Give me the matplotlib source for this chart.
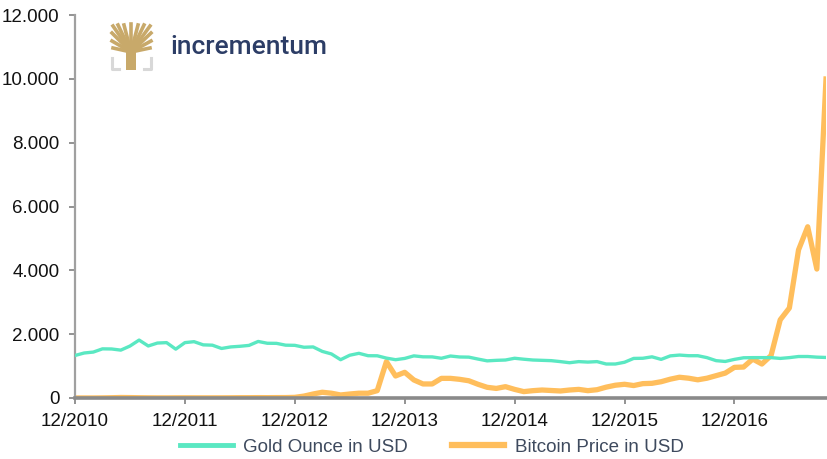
import matplotlib.pyplot as plt
from matplotlib.ticker import FuncFormatter
from matplotlib.lines import Line2D
from matplotlib.patches import Rectangle

plt.rcParams['font.family'] = ['Liberation Sans', 'DejaVu Sans']

# monthly values, first point = first month after the 12/2010 tick
gold = [1332, 1410, 1439, 1540, 1536, 1500, 1628, 1815, 1630, 1722, 1735, 1531,
        1735, 1765, 1665, 1655, 1552, 1600, 1620, 1648, 1772, 1715, 1712, 1655,
        1650, 1590, 1600, 1460, 1380, 1200, 1340, 1400, 1325, 1323, 1250, 1200,
        1240, 1320, 1290, 1288, 1245, 1315, 1285, 1280, 1220, 1164, 1180, 1190,
        1245, 1215, 1190, 1180, 1170, 1140, 1105, 1140, 1125, 1140, 1065, 1065,
        1120, 1240, 1245, 1290, 1210, 1320, 1345, 1325, 1325, 1265, 1170, 1145,
        1210, 1260, 1265, 1265, 1265, 1240, 1265, 1300, 1300, 1280, 1270]
bitcoin = [0.5, 0.9, 0.8, 3.5, 8.7, 16, 13, 8.2, 5.1, 3.2, 3.0, 4.7,
           5.5, 4.9, 4.9, 5.0, 5.2, 6.7, 9.4, 10, 12, 11, 12.6, 13.5,
           20, 60, 125, 180, 150, 95, 125, 150, 150, 230, 1140, 690,
           805, 565, 440, 440, 615, 615, 585, 540, 430, 335, 300, 355,
           270, 200, 230, 250, 235, 220, 250, 270, 230, 260, 340, 400,
           430, 390, 450, 460, 510, 590, 650, 620, 570, 620, 700, 780,
           960, 970, 1220, 1065, 1330, 2450, 2820, 4640, 5365, 4040, 9995]
tick_pos = [0, 12, 24, 36, 48, 60, 72]
tick_labels = ['12/2010', '12/2011', '12/2012', '12/2013', '12/2014', '12/2015', '12/2016']
gold_label = 'Gold Ounce in USD'
btc_label = 'Bitcoin Price in USD'

fig = plt.figure(figsize=(8.27, 4.59), dpi=100)
ax = fig.add_axes([75/827, 1-398/459, 751/827, 383/459])

x = list(range(len(gold)))
ax.plot(x, gold, color='#5ae8c2', lw=2.4, solid_joinstyle='round', zorder=3)
ax.plot(x, bitcoin, color='#ffbe5c', lw=3.8, solid_joinstyle='round', zorder=2)

ax.set_xlim(0, len(gold) - 1)
ax.set_ylim(0, 12000)
ax.set_yticks(range(0, 12001, 2000))
ax.yaxis.set_major_formatter(FuncFormatter(lambda v, p: f'{int(v):,}'.replace(',', '.')))
ax.set_xticks(tick_pos)
ax.set_xticklabels(tick_labels)

for s in ['top', 'right']:
    ax.spines[s].set_visible(False)
ax.spines['left'].set_color('#a0a0a0')
ax.spines['left'].set_linewidth(1.6)
ax.spines['bottom'].set_color('#8a8a8a')
ax.spines['bottom'].set_linewidth(2.6)
ax.tick_params(axis='both', colors='#8a8a8a', length=4, width=1.3,
               labelsize=13.5, labelcolor='#111111')
ax.tick_params(axis='y', pad=7)
ax.tick_params(axis='x', pad=7)

handles = [Line2D([], [], color='#5ae8c2', lw=3.5), Line2D([], [], color='#ffbe5c', lw=4.5)]
leg = fig.legend(handles, [gold_label, btc_label], loc='center', bbox_to_anchor=(432/827, 1-447/459),
                 ncol=2, frameon=False, fontsize=13.5, handlelength=2.8, columnspacing=2.35,
                 handletextpad=0.55)
for t in leg.get_texts():
    t.set_color('#3e4a5e')

# logo
tree = '#c8a96a'
fig.add_artist(Line2D([112/827, 112/827, 119/827], [1-58/459, 1-69/459, 1-69/459], color='#d8d8d8', lw=2.2))
fig.add_artist(Line2D([144/827, 151/827, 151/827], [1-69/459, 1-69/459, 1-58/459], color='#d8d8d8', lw=2.2))
fig.add_artist(Rectangle((126/827, 1-70/459), 10/827, 27/459, color=tree, lw=0))
for bx, by in [(113, 26), (118, 25), (124, 25), (131, 24), (138, 25), (144, 25), (150, 26),
               (112, 33), (151, 33), (112, 41), (151, 41), (113, 48), (150, 48)]:
    fig.add_artist(Line2D([131/827, bx/827], [1-52/459, 1-by/459], color=tree, lw=2.6))
fig.text(170/827, 1-47/459, 'incrementum', fontsize=19, color='#2c3d66',
         fontweight='medium', va='center', ha='left', family=['Roboto', 'DejaVu Sans'])

fig.savefig('out.png', dpi=100)
